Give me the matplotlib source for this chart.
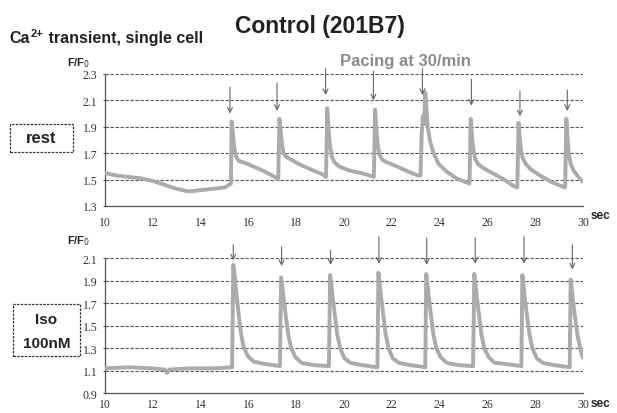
import matplotlib
matplotlib.use("Agg")
import matplotlib.pyplot as plt
from matplotlib.patches import Rectangle
from matplotlib.transforms import offset_copy

# ---- data ----
# rest trace (time in s, F/F0)
rest_t = [10.0, 10.5, 11.0, 11.5, 12.0, 12.5, 13.0, 13.5, 14.0, 14.5, 15.0, 15.2, 15.27,
          15.30, 15.35, 15.40, 15.47, 15.6, 15.8, 16.2, 16.7, 17.1, 17.25,
          17.30, 17.35, 17.40, 17.47, 17.6, 17.8, 18.2, 18.7, 19.1, 19.25,
          19.30, 19.35, 19.40, 19.48, 19.6, 19.8, 20.2, 20.7, 21.1, 21.25,
          21.30, 21.35, 21.40, 21.48, 21.6, 21.8, 22.2, 22.7, 23.1, 23.2,
          23.25, 23.30, 23.35, 23.40, 23.45, 23.5, 23.6, 23.75, 23.95, 24.3, 24.7, 25.1, 25.25,
          25.30, 25.35, 25.40, 25.48, 25.6, 25.8, 26.2, 26.7, 27.1, 27.25,
          27.30, 27.35, 27.40, 27.48, 27.6, 27.8, 28.2, 28.7, 29.1, 29.25,
          29.30, 29.35, 29.40, 29.48, 29.6, 29.8, 29.95]
rest_f = [1.55, 1.53, 1.52, 1.51, 1.49, 1.46, 1.43, 1.41, 1.42, 1.43, 1.44, 1.46, 1.47,
          1.94, 1.86, 1.76, 1.68, 1.64, 1.63, 1.60, 1.56, 1.52, 1.50,
          1.96, 1.87, 1.78, 1.70, 1.67, 1.65, 1.61, 1.57, 1.54, 1.52,
          2.04, 1.90, 1.78, 1.68, 1.63, 1.60, 1.57, 1.55, 1.53, 1.52,
          2.03, 1.89, 1.78, 1.69, 1.65, 1.63, 1.60, 1.56, 1.53, 1.53,
          1.85, 1.98, 1.92, 2.16, 2.04, 1.90, 1.79, 1.70, 1.62, 1.56, 1.51, 1.48, 1.47,
          1.96, 1.84, 1.74, 1.66, 1.62, 1.59, 1.55, 1.50, 1.45, 1.44,
          1.93, 1.82, 1.73, 1.66, 1.62, 1.58, 1.53, 1.48, 1.45, 1.44,
          1.96, 1.82, 1.70, 1.62, 1.57, 1.52, 1.49]

# Iso 100nM trace
iso_t = [10.0, 11.0, 12.0, 12.5, 12.6, 12.7, 13.5, 14.5, 15.32,
         15.37, 15.42, 15.47, 15.57, 15.67, 15.79, 15.97, 16.22, 16.67, 17.32,
         17.37, 17.42, 17.47, 17.57, 17.67, 17.79, 17.97, 18.22, 18.67, 19.37,
         19.42, 19.47, 19.52, 19.62, 19.72, 19.84, 20.02, 20.27, 20.72, 21.40,
         21.44, 21.49, 21.54, 21.64, 21.74, 21.86, 22.04, 22.29, 22.74, 23.40,
         23.44, 23.49, 23.54, 23.64, 23.74, 23.86, 24.04, 24.29, 24.74, 25.40,
         25.45, 25.50, 25.55, 25.65, 25.75, 25.87, 26.05, 26.30, 26.75, 27.42,
         27.46, 27.51, 27.56, 27.66, 27.76, 27.88, 28.06, 28.31, 28.76, 29.44,
         29.48, 29.53, 29.58, 29.68, 29.78, 29.90, 29.98]
iso_f = [1.12, 1.13, 1.12, 1.11, 1.08, 1.11, 1.12, 1.12, 1.13,
         2.04, 1.96, 1.85, 1.65, 1.46, 1.32, 1.23, 1.18, 1.16, 1.14,
         1.93, 1.85, 1.76, 1.58, 1.42, 1.30, 1.22, 1.17, 1.15, 1.14,
         1.95, 1.87, 1.77, 1.59, 1.42, 1.30, 1.21, 1.17, 1.15, 1.13,
         1.97, 1.88, 1.78, 1.60, 1.43, 1.30, 1.21, 1.17, 1.15, 1.13,
         1.96, 1.87, 1.77, 1.59, 1.42, 1.30, 1.22, 1.17, 1.15, 1.14,
         1.96, 1.87, 1.77, 1.59, 1.42, 1.30, 1.22, 1.17, 1.16, 1.14,
         1.95, 1.86, 1.76, 1.58, 1.42, 1.30, 1.21, 1.17, 1.15, 1.13,
         1.91, 1.82, 1.72, 1.55, 1.40, 1.28, 1.22]

# pacing arrows: time, tail value, head value
rest_arrow_t = [15.23, 17.2, 19.23, 21.23, 23.28, 25.33, 27.36, 29.34]
rest_arrow_top = [2.20, 2.23, 2.34, 2.32, 2.34, 2.26, 2.17, 2.18]
rest_arrow_tip = [2.00, 2.02, 2.14, 2.10, 2.14, 2.06, 1.98, 2.02]

iso_arrow_t = [15.37, 17.39, 19.44, 21.46, 23.46, 25.49, 27.53, 29.55]
iso_arrow_top = [2.22, 2.20, 2.17, 2.29, 2.28, 2.28, 2.29, 2.22]
iso_arrow_tip = [2.08, 2.03, 2.04, 2.05, 2.04, 2.05, 2.05, 2.00]

x_ticks = [10, 12, 14, 16, 18, 20, 22, 24, 26, 28, 30]
rest_yticks = [1.3, 1.5, 1.7, 1.9, 2.1, 2.3]
iso_yticks = [0.9, 1.1, 1.3, 1.5, 1.7, 1.9, 2.1]

SANS = "Liberation Sans"
SERIF = "Liberation Serif"
TRACE = "#ababab"
GRID = "#555555"
INK = "#222222"

fig = plt.figure(figsize=(6.17, 4.14), dpi=100)
ax1 = fig.add_axes([0.170, 0.500, 0.775, 0.319])
ax2 = fig.add_axes([0.170, 0.048, 0.775, 0.326])


def style_axes(ax, yticks, xpad):
    ax.set_xlim(10, 30)
    ax.set_ylim(yticks[0], yticks[-1])
    ax.set_xticks(x_ticks)
    ax.set_yticks(yticks)
    ax.set_xticklabels([str(v) for v in x_ticks], fontfamily=SERIF, fontsize=8.5, color="#333333")
    ax.set_yticklabels(["%.1f" % v for v in yticks], fontfamily=SERIF, fontsize=8.5, color="#333333")
    for s in ["top", "right"]:
        ax.spines[s].set_visible(False)
    for s in ["left", "bottom"]:
        ax.spines[s].set_linestyle((0, (2, 1)))
        ax.spines[s].set_color(GRID)
        ax.spines[s].set_linewidth(0.9)
    ax.tick_params(axis="x", length=0, pad=xpad)
    ax.tick_params(axis="y", length=3, direction="inout", color=GRID, pad=4)
    for v in yticks[1:]:
        ax.axhline(v, color=GRID, lw=0.8, ls=(0, (3, 1.5)), zorder=1)


style_axes(ax1, rest_yticks, 7)
style_axes(ax2, iso_yticks, 3.5)

ax1.plot(rest_t, rest_f, color=TRACE, lw=2.8, zorder=3, solid_joinstyle="round")
ax2.plot(iso_t, iso_f, color=TRACE, lw=2.8, zorder=3, solid_joinstyle="round")

for ax, ts, tops, tips in [(ax1, rest_arrow_t, rest_arrow_top, rest_arrow_tip),
                           (ax2, iso_arrow_t, iso_arrow_top, iso_arrow_tip)]:
    for t, y0, y1 in zip(ts, tops, tips):
        ax.annotate("", xy=(t, y1), xytext=(t, y0), annotation_clip=False,
                    arrowprops=dict(arrowstyle="->", color="#666666", lw=0.8,
                                    shrinkA=0, shrinkB=0, mutation_scale=9))

# titles
fig.text(0.518, 0.937, "Control (201B7)", ha="center", va="center",
         fontfamily=SANS, fontsize=16.5, fontweight="bold", color=INK)
fig.text(0.657, 0.852, "Pacing at 30/min", ha="center", va="center",
         fontfamily=SANS, fontsize=12, fontweight="bold", color="#8a8a8a")

# "Ca2+ transient, single cell" built from pieces so the superscript sits tight
renderer = fig.canvas.get_renderer()
px2pt = 72 / fig.dpi
t_ca = fig.text(0.016, 0.896, "Ca", ha="left", va="baseline",
                fontfamily=SANS, fontsize=11.5, fontweight="bold", color=INK)
w_ca = t_ca.get_window_extent(renderer).width
t_sup = fig.text(0.016, 0.896, "2+", ha="left", va="baseline",
                 fontfamily=SANS, fontsize=8, fontweight="bold", color=INK,
                 transform=offset_copy(fig.transFigure, fig=fig, x=w_ca * px2pt + 0.5,
                                       y=4.5, units="points"))
w_sup = t_sup.get_window_extent(renderer).width
fig.text(0.016, 0.896, " transient, single cell", ha="left", va="baseline",
         fontfamily=SANS, fontsize=11.5, fontweight="bold", color=INK,
         transform=offset_copy(fig.transFigure, fig=fig, x=(w_ca + w_sup) * px2pt + 0.5,
                               y=0, units="points"))

fig.text(0.108, 0.848, "F/F$_0$", ha="left", va="center",
         fontfamily=SANS, fontsize=8, fontweight="bold", color=INK)
fig.text(0.108, 0.418, "F/F$_0$", ha="left", va="center",
         fontfamily=SANS, fontsize=8, fontweight="bold", color=INK)
fig.text(0.958, 0.478, "sec", ha="left", va="center",
         fontfamily=SANS, fontsize=8.5, fontweight="bold", color=INK)
fig.text(0.958, 0.025, "sec", ha="left", va="center",
         fontfamily=SANS, fontsize=8.5, fontweight="bold", color=INK)

# label boxes
fig.patches.append(Rectangle((10 / 617, 1 - 153 / 414), 63 / 617, 28 / 414,
                             transform=fig.transFigure, fill=False,
                             ec="#333333", lw=0.9, ls=(0, (2, 1))))
fig.text(41.5 / 617, 1 - 139 / 414, "rest", ha="center", va="center",
         fontfamily=SANS, fontsize=12, fontweight="bold", color=INK)
fig.patches.append(Rectangle((13 / 617, 1 - 357 / 414), 67 / 617, 52 / 414,
                             transform=fig.transFigure, fill=False,
                             ec="#333333", lw=0.9, ls=(0, (2, 1))))
fig.text(46.5 / 617, 1 - 320 / 414, "Iso", ha="center", va="center",
         fontfamily=SANS, fontsize=11, fontweight="bold", color=INK)
fig.text(46.5 / 617, 1 - 344 / 414, "100nM", ha="center", va="center",
         fontfamily=SANS, fontsize=11, fontweight="bold", color=INK)

fig.savefig("out.png", dpi=100)
